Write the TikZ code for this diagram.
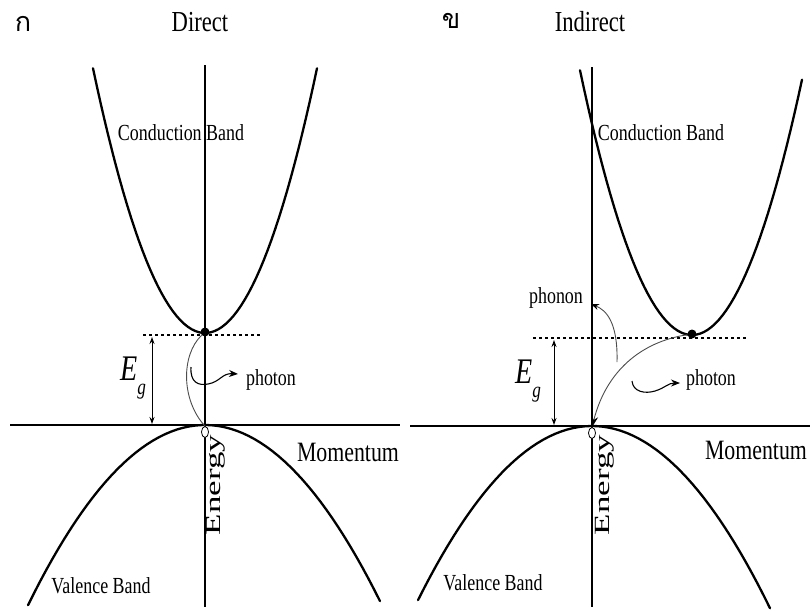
\documentclass[tikz,border=0pt]{standalone}
\usepackage{fontspec}
\setmainfont[FakeStretch=0.78]{Liberation Serif}
\newfontfamily\axisfont{Liberation Serif}
\newfontfamily\thaifont[Script=Thai]{Loma}
\usetikzlibrary{arrows.meta, shapes.geometric}

\begin{document}
\begin{tikzpicture}[
  x=1pt, y=-1pt,
  band/.style={line width=2.3pt, line cap=round},
  axis/.style={line width=1.4pt},
  level/.style={line width=1.2pt, dash pattern=on 2.5pt off 3.5pt},
  gap/.style={{Stealth[length=7pt,width=5pt]}-{Stealth[length=7pt,width=5pt]}, line width=1pt},
  ray/.style={gray!60!black, line width=0.9pt},
  wave/.style={-{Stealth[length=9pt,width=7pt]}, line width=1.1pt},
  lbl/.style={font=\fontsize{23}{25}\selectfont, inner sep=0pt},
  ttl/.style={font=\fontsize{29}{30}\selectfont, inner sep=0pt},
  axlbl/.style={font=\fontsize{28}{30}\selectfont, inner sep=0pt},
  thai/.style={font=\thaifont\fontsize{27}{29}\selectfont, inner sep=0pt},
  electron/.style={circle, fill, inner sep=0pt, minimum size=9pt},
  hole/.style={ellipse, draw, fill=white, line width=0.8pt, inner sep=0pt,
               minimum width=7pt, minimum height=11pt},
]
\useasboundingbox (0,0) rectangle (810,614);

% ================= Direct gap (left) =================
\draw[axis] (10,425) -- (400,425);
\draw[axis] (205,65) -- (205,607);
\draw[band] plot[domain=-112:112, samples=60] ({205+\x},{333-(0.14526*\x)^2});
\draw[band] plot[domain=-177:175, samples=60] ({205+\x},{425+(0.07583*\x)^2});
\draw[level] (143,335) -- (262,335);

\node[electron] (eD) at (205,332) {};
\node[hole] (hD) at (205,432) {};
\coordinate (gD1) at (152,337);
\coordinate (gD2) at (152,424);
\draw[gap] (gD1) -- (gD2);
\draw[ray] (eD) .. controls (181,355) and (181,400) .. (hD.north);

\coordinate (wD1) at (191,367);
\coordinate (wD2) at (208,384);
\coordinate (wD3) at (238,374);
\draw[wave] (wD1) .. controls (190,382) and (198,386) .. (wD2)
            .. controls (220,382) and (222,373) .. (wD3);

\node[thai] (kD) at (23,24) {ก};
\node[ttl] (tD) at (200,22) {Direct};
\node[lbl] (cbD) at (181,133) {Conduction Band};
\node[lbl] (vbD) at (101,586) {Valence Band};
\node[lbl] (phD) at (271,380) {photon};
\node[axlbl] (mD) at (348,452) {Momentum};
\node[rotate=90, inner sep=0pt] (enD) at (216,485)
  {\scalebox{1}[0.62]{\axisfont\fontsize{35}{37}\selectfont Energy}};
\node[inner sep=0pt, font=\fontsize{36}{38}\selectfont] (egD) at (133,378)
  {\itshape E\raisebox{-0.4em}{\fontsize{22}{24}\selectfont g}};

% ================= Indirect gap (right) =================
\draw[axis] (410,426) -- (810,426);
\draw[axis] (592,67) -- (592,607);
\draw[band] plot[domain=-112:110, samples=60] ({692+\x},{335-(0.14526*\x)^2});
\draw[band] plot[domain=-174:178, samples=60] ({592+\x},{426+(0.07583*\x)^2});
\draw[level] (533,338) -- (747,338);

\node[electron] (eI) at (692,334) {};
\node[hole] (hI) at (592,433) {};
\coordinate (gI1) at (554,340);
\coordinate (gI2) at (554,425);
\draw[gap] (gI1) -- (gI2);
\draw[ray, -{Stealth[length=11pt,width=7pt,black]}] (eI) .. controls (640,342) and (606,372) .. (hI.north);

\coordinate (pI1) at (617,362);
\coordinate (pI2) at (591,304);
\draw[ray, -{Stealth[length=8pt,width=6pt,black]}] (pI1) .. controls (618,322) and (606,310) .. (pI2);

\coordinate (wI1) at (632,381);
\coordinate (wI2) at (655,391);
\coordinate (wI3) at (680,383);
\draw[wave] (wI1) .. controls (633,392) and (645,394) .. (wI2)
            .. controls (665,388) and (668,383) .. (wI3);

\node[thai] (kI) at (451,21) {ข};
\node[ttl] (tI) at (590,22) {Indirect};
\node[lbl] (cbI) at (661,133) {Conduction Band};
\node[lbl] (vbI) at (493,583) {Valence Band};
\node[lbl] (phI) at (711,380) {photon};
\node[lbl] (pnI) at (556,298) {phonon};
\node[axlbl] (mI) at (756,450) {Momentum};
\node[rotate=90, inner sep=0pt] (enI) at (605,485)
  {\scalebox{1}[0.62]{\axisfont\fontsize{35}{37}\selectfont Energy}};
\node[inner sep=0pt, font=\fontsize{36}{38}\selectfont] (egI) at (528,381)
  {\itshape E\raisebox{-0.4em}{\fontsize{22}{24}\selectfont g}};
\end{tikzpicture}
\end{document}
